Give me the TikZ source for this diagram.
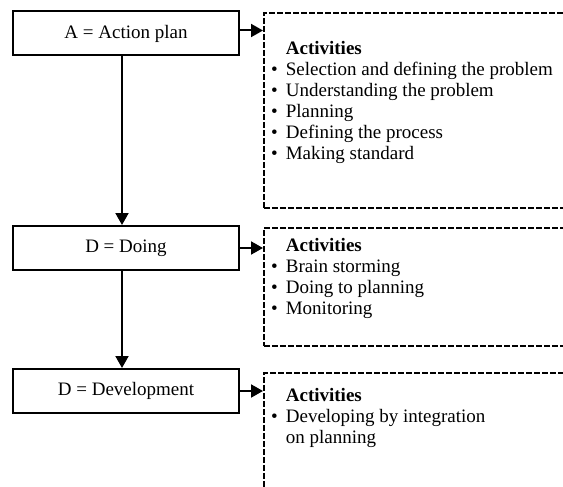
\documentclass[tikz,border=0pt]{standalone}
\usepackage{fontspec}
\setmainfont{Liberation Serif}
\usetikzlibrary{arrows.meta,positioning,calc}
\tikzset{
  stage/.style={draw=black,line width=2pt,minimum width=226pt,minimum height=44pt,
    inner sep=0pt,font=\fontsize{19}{21}\selectfont},
  actbox/.style={draw=black,line width=1.8pt,dash pattern=on 6pt off 2pt,
    minimum width=340pt,inner sep=0pt,anchor=north west},
  actlist/.style={anchor=north west,inner sep=0pt,align=left,
    font=\fontsize{19}{21}\selectfont},
  flow/.style={-{Triangle[length=12pt,width=13pt]},line width=2pt},
}
\newcommand{\acthead}{& \textbf{Activities}\\}

\begin{document}
\begin{tikzpicture}[x=1pt,y=-1pt]
  \useasboundingbox (0,0) rectangle (563,487);
  \clip (0,0) rectangle (563,487);
  % the three stages
  \node[stage] (plan) at (126,33.5) {A = Action plan};
  \node[stage] (doing) at (126,248) {D = Doing};
  \node[stage] (devel) at (126,391) {D = Development};
  % activity boxes, running off the right edge
  \node[actbox,minimum height=195pt] (acts1) at (263,12) {};
  \node[actbox,minimum height=118pt] (acts2) at (263,227) {};
  \node[actbox,minimum height=140pt] (acts3) at (263,372) {};
  \node[actlist] (list1) at (271,40) {\begin{tabular}{@{}l@{\hspace{8pt}}l@{}}
    \acthead
    \textbullet & Selection and defining the problem\\
    \textbullet & Understanding the problem\\
    \textbullet & Planning\\
    \textbullet & Defining the process\\
    \textbullet & Making standard
  \end{tabular}};
  \node[actlist] (list2) at (271,237) {\begin{tabular}{@{}l@{\hspace{8pt}}l@{}}
    \acthead
    \textbullet & Brain storming\\
    \textbullet & Doing to planning\\
    \textbullet & Monitoring
  \end{tabular}};
  \node[actlist] (list3) at (271,387) {\begin{tabular}{@{}l@{\hspace{8pt}}l@{}}
    \acthead
    \textbullet & Developing by integration\\
                & on planning
  \end{tabular}};
  \draw[flow] ([yshift=3pt]plan.east) -- ([yshift=3pt]plan.east -| acts1.west);
  \draw[flow] (doing.east) -- (doing.east -| acts2.west);
  \draw[flow] (devel.east) -- (devel.east -| acts3.west);
  \draw[flow] ([xshift=-4pt]plan.south) -- ([xshift=-4pt]doing.north);
  \draw[flow] ([xshift=-4pt]doing.south) -- ([xshift=-4pt]devel.north);
\end{tikzpicture}
\end{document}
